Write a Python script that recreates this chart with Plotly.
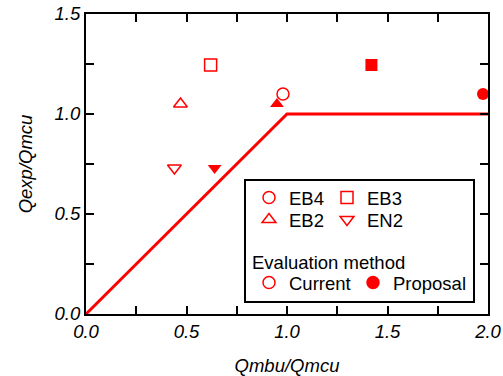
import plotly.graph_objects as go

# ---- data ----
series_names = ["EB4", "EB3", "EB2", "EN2"]
series_symbols = ["circle", "square", "triangle-up", "triangle-down"]
current_x = [0.98, 0.62, 0.47, 0.44]
current_y = [1.10, 1.245, 1.05, 0.73]
proposal_x = [1.975, 1.42, 0.95, 0.64]
proposal_y = [1.10, 1.245, 1.05, 0.73]
limit_x = [0.0, 1.0, 2.0]
limit_y = [0.0, 1.0, 1.0]
x_ticks = [0.0, 0.5, 1.0, 1.5, 2.0]
y_ticks = [0.0, 0.5, 1.0, 1.5]

RED = "#ff0000"
FONT = "Arial, Liberation Sans, sans-serif"
FS = 18.5
W, H = 503, 376
ML, MR, MT, MB = 86, 15, 14, 62
PW, PH = W - ML - MR, H - MT - MB

def px2paper(px, py):
    return (px - ML) / PW, (H - MB - py) / PH

fig = go.Figure()

fig.add_trace(go.Scatter(x=limit_x, y=limit_y, mode="lines",
                         line=dict(color=RED, width=3), showlegend=False, hoverinfo="skip"))

for i, name in enumerate(series_names):
    sym = series_symbols[i]
    fig.add_trace(go.Scatter(x=[current_x[i]], y=[current_y[i]], mode="markers",
                             marker=dict(symbol=sym + "-open", size=12, color=RED, line=dict(width=1.5, color=RED)),
                             showlegend=False))
    fig.add_trace(go.Scatter(x=[proposal_x[i]], y=[proposal_y[i]], mode="markers",
                             marker=dict(symbol=sym, size=12, color=RED, line=dict(width=0)),
                             showlegend=False))

# ---- legend (one small legend per entry) ----
legend_entries = [
    ("EB4", "circle-open", (269, 198)),
    ("EB3", "square-open", (347, 198)),
    ("EB2", "triangle-up-open", (269, 220)),
    ("EN2", "triangle-down-open", (347, 220)),
    ("Current", "circle-open", (269, 283)),
    ("Proposal", "circle", (373, 283)),
]
layout_legends = {}
for k, (label, sym, (mx, my)) in enumerate(legend_entries):
    lid = "legend" if k == 0 else "legend%d" % (k + 1)
    fig.add_trace(go.Scatter(x=[None], y=[None], mode="markers", name=label,
                             marker=dict(symbol=sym, size=12, color=RED, line=dict(width=1.5, color=RED)),
                             showlegend=True, legend=lid))
    lx, ly = px2paper(mx - 20, my)
    layout_legends[lid] = dict(x=lx, y=ly, xanchor="left", yanchor="middle",
                               bgcolor="rgba(0,0,0,0)", borderwidth=0,
                               font=dict(family=FONT, size=FS, color="black"))

ax, ay = px2paper(250, 262)
fig.add_annotation(x=ax, y=ay, xref="paper", yref="paper", xanchor="left", yanchor="middle",
                   text="Evaluation method", showarrow=False,
                   font=dict(family=FONT, size=FS, color="black"))

bx0, by0 = px2paper(245, 302)
bx1, by1 = px2paper(474, 180)
fig.add_shape(type="rect", xref="paper", yref="paper", x0=bx0, y0=by0, x1=bx1, y1=by1,
              line=dict(color="black", width=2), fillcolor="white", layer="below")

axis_common = dict(
    showgrid=False, zeroline=False, showline=True, linecolor="black", linewidth=2,
    mirror="ticks", ticks="inside", ticklen=8, tickwidth=1.5, tickcolor="black",
    tickformat=".1f",
    tickfont=dict(family=FONT, size=FS, color="black", style="italic"),
    minor=dict(ticks="inside", ticklen=8, tickwidth=1.5, tickcolor="black", dtick=0.25),
)
fig.update_xaxes(range=[0, 2], tickvals=x_ticks, title=dict(text="Qmbu/Qmcu", standoff=19,
                 font=dict(family=FONT, size=FS, color="black", style="italic")), **axis_common)
fig.update_yaxes(range=[0, 1.5], tickvals=y_ticks, title=dict(text="Qexp/Qmcu", standoff=17,
                 font=dict(family=FONT, size=FS, color="black", style="italic")), **axis_common)

fig.update_layout(width=W, height=H, margin=dict(l=ML, r=MR, t=MT, b=MB, autoexpand=False),
                  plot_bgcolor="white", paper_bgcolor="white", **layout_legends)

fig.write_html("out.html", config={"displayModeBar": False},
               post_script="document.body.style.margin='0px';")
